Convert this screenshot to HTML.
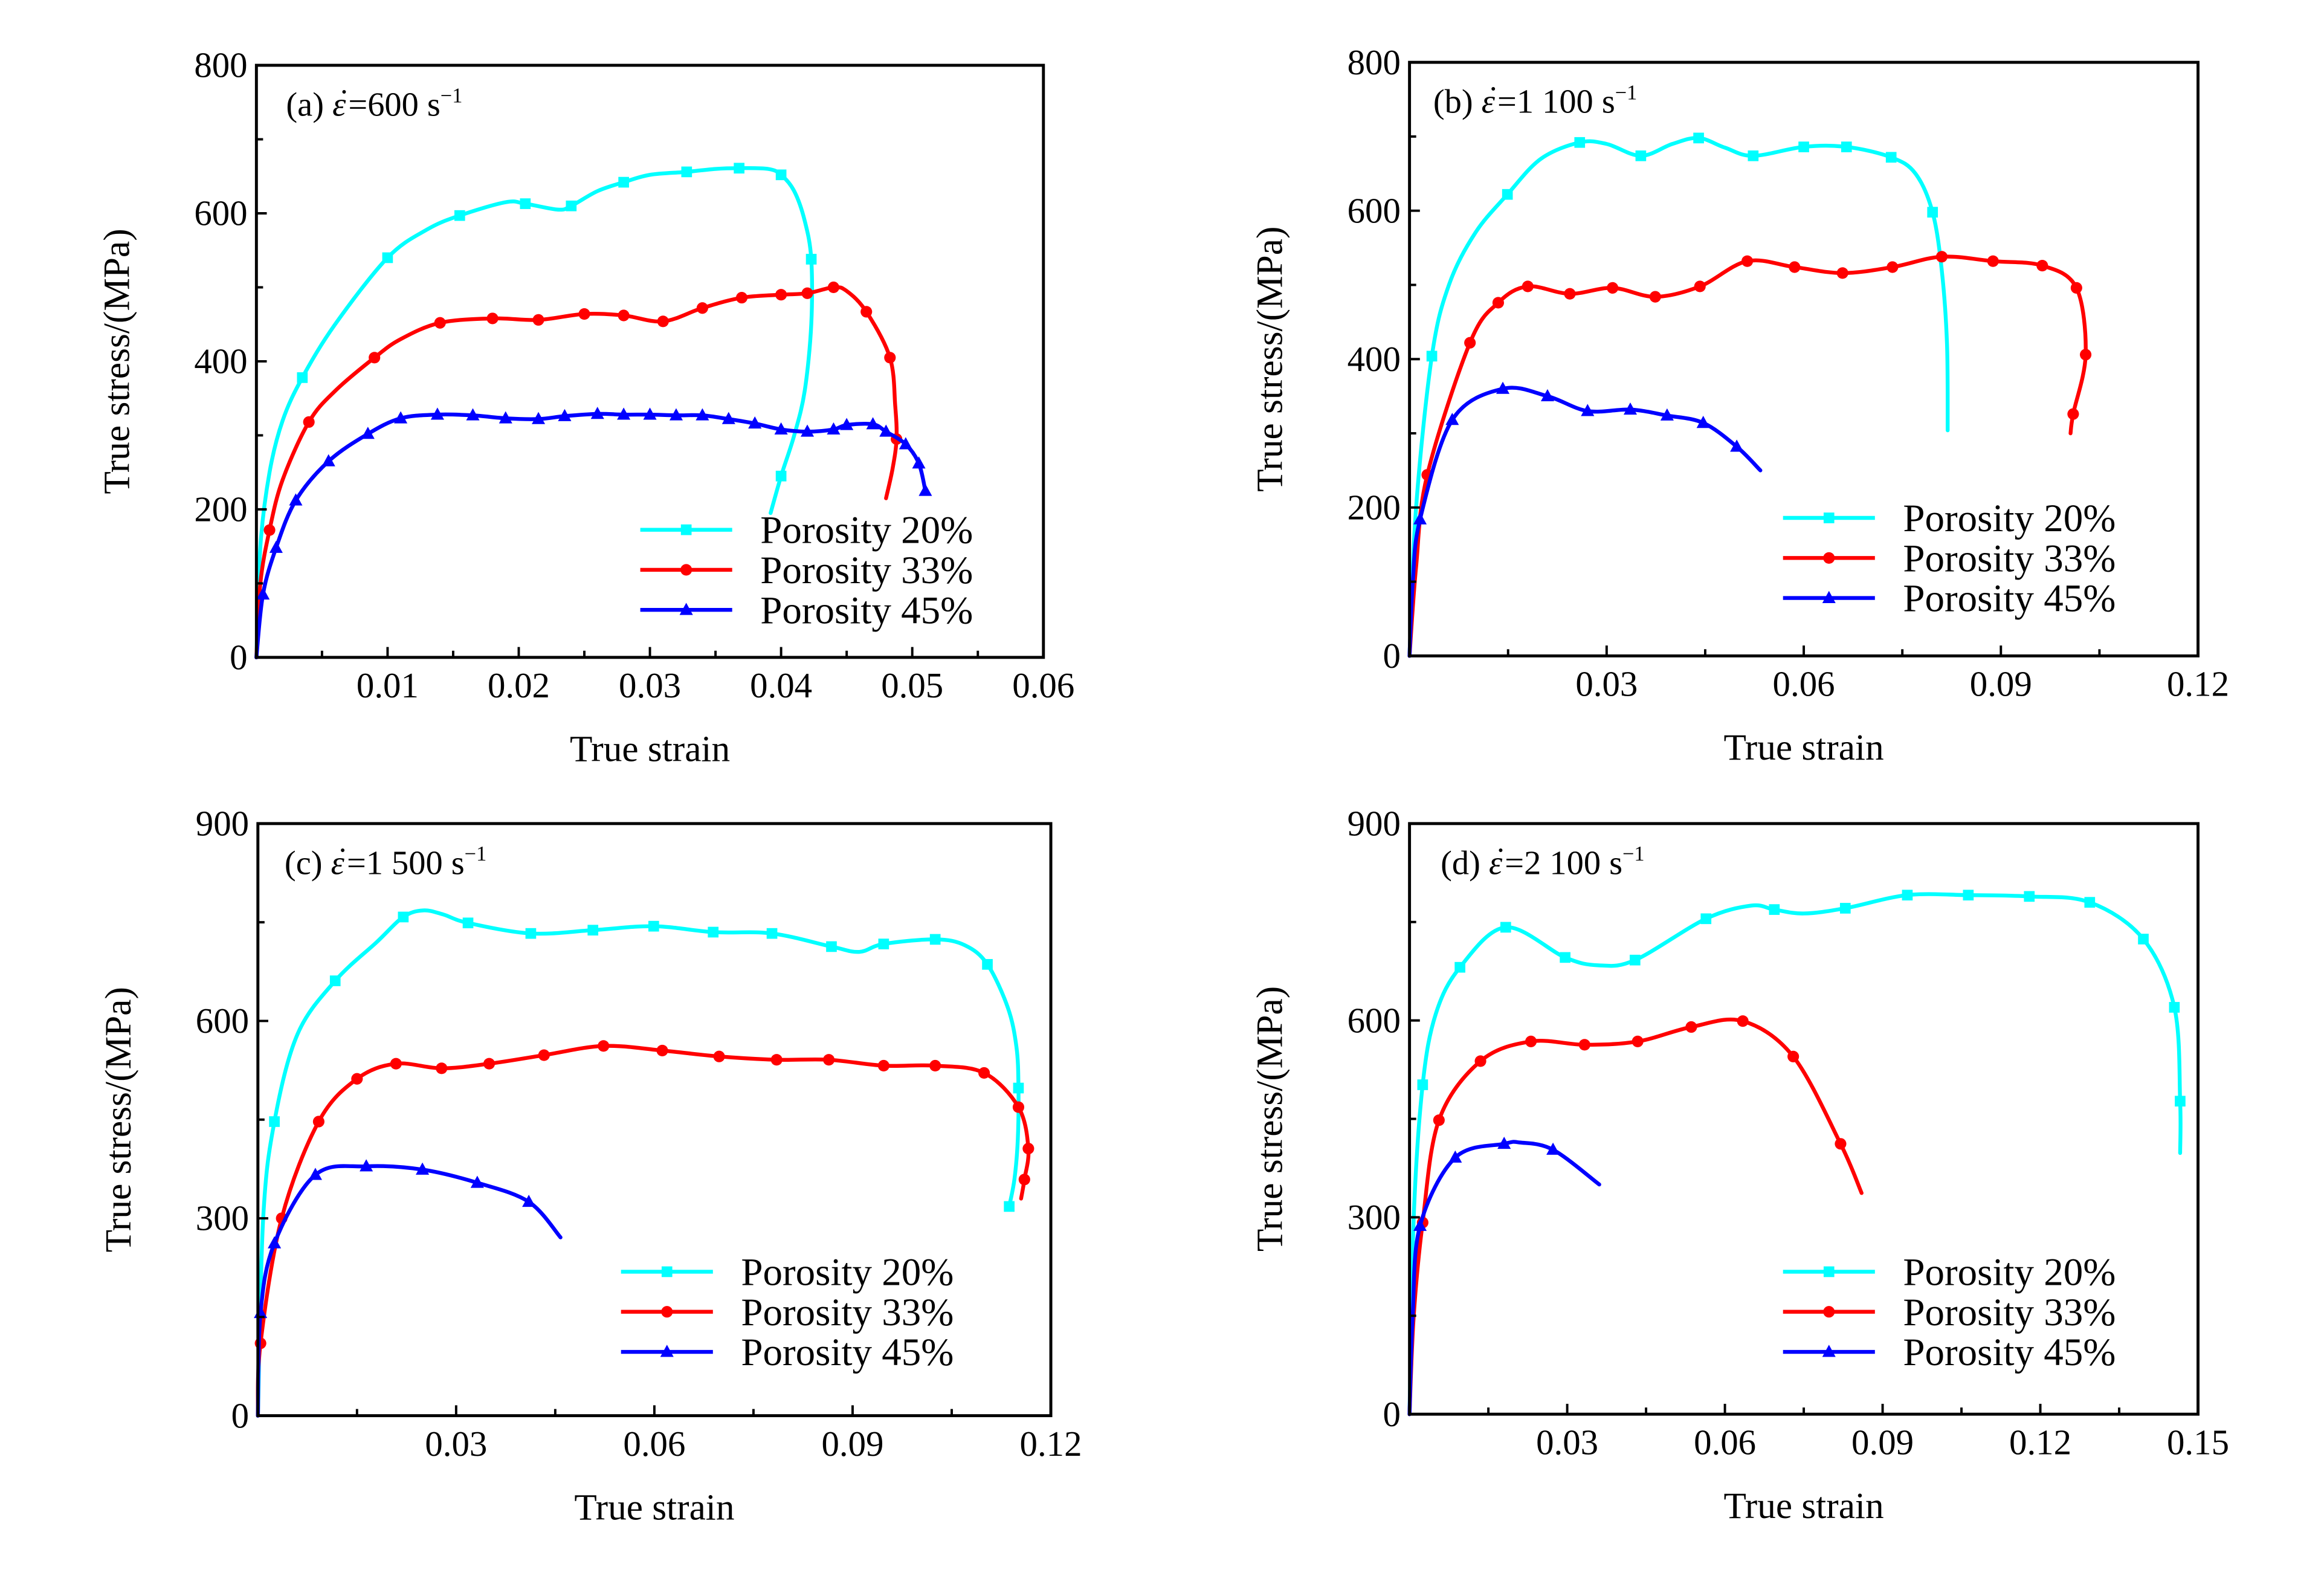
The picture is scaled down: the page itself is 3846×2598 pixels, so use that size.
<!DOCTYPE html>
<html><head><meta charset="utf-8"><style>
html,body{margin:0;padding:0;background:#fff;}
svg{display:block;}
text{font-family:"Liberation Serif",serif;fill:#000;}
</style></head>
<body>
<svg id="fig" xmlns="http://www.w3.org/2000/svg" width="3846" height="2598" viewBox="0 0 1568 1058" preserveAspectRatio="none"></svg>
<script>
// ---- Panel (a) data ----
const aCyanX=[0,0.0003,0.001,0.002,0.0035,0.006,0.01,0.013,0.0155,0.019,0.0205,0.023,0.024,0.026,0.028,0.030,0.0328,0.035,0.0368,0.039,0.040,0.041,0.0418,0.0423,0.0423,0.0418,0.041,0.040,0.0392];
const aCyanY=[0,150,250,320,378,450,540,578,597,615,613,605,610,630,642,652,656,660,661,660,652,630,590,538,450,360,300,245,195];
const aCyanM=[4,6,8,10,12,14,16,18,20,23,27];
const aRedX=[0,0.0003,0.001,0.002,0.004,0.006,0.009,0.011,0.014,0.018,0.0215,0.025,0.028,0.031,0.034,0.037,0.040,0.042,0.044,0.045,0.0465,0.0483,0.0487,0.0488,0.0485,0.048];
const aRedY=[0,100,172,240,318,360,405,430,452,458,456,464,462,454,472,486,490,492,500,495,467,405,340,295,255,215];
const aRedM=[2,4,6,8,9,10,11,12,13,14,15,16,17,18,20,21,23];
const aBlueX=[0,0.0005,0.0015,0.003,0.0055,0.0085,0.011,0.0138,0.0165,0.019,0.0215,0.0235,0.026,0.028,0.030,0.032,0.034,0.036,0.038,0.040,0.042,0.044,0.045,0.047,0.048,0.0495,0.0505,0.051];
const aBlueY=[0,85,148,212,265,302,323,328,327,323,322,326,329,328,328,327,327,322,316,308,305,308,314,315,305,288,262,225];
const aBlueM=[1,2,3,4,5,6,7,8,9,10,11,12,13,14,15,16,17,18,19,20,21,22,23,24,25,26,27];
// ---- Panel (b) data ----
const bCyanX=[0,0.001,0.0034,0.006,0.01,0.0149,0.02,0.0259,0.03,0.0352,0.04,0.044,0.048,0.0523,0.06,0.0665,0.0733,0.077,0.0796,0.081,0.0818,0.0819];
const bCyanY=[0,200,404,500,570,622,670,692,690,674,690,698,685,674,686,686,672,650,598,520,420,304];
const bCyanM=[2,5,7,9,11,13,14,15,16,18];
const bRedX=[0,0.001,0.0027,0.0092,0.0135,0.018,0.0244,0.0309,0.0374,0.0442,0.0514,0.0586,0.0659,0.0735,0.081,0.0888,0.0963,0.1015,0.1029,0.101,0.1006];
const bRedY=[0,120,244,422,476,498,488,496,484,498,532,524,516,524,538,532,526,496,406,326,300];
const bRedM=[2,3,4,5,6,7,8,9,10,11,12,13,14,15,16,17,18,19];
const bBlueX=[0,0.0005,0.0016,0.0065,0.0142,0.021,0.0271,0.0336,0.0392,0.0447,0.0498,0.0534];
const bBlueY=[0,100,184,318,360,350,330,332,324,314,282,250];
const bBlueM=[2,3,4,5,6,7,8,9,10];
// ---- Panel (c) data ----
const cCyanX=[0,0.0008,0.0025,0.006,0.0117,0.018,0.022,0.025,0.028,0.0318,0.0413,0.0507,0.0599,0.0689,0.0778,0.0868,0.091,0.0947,0.1025,0.107,0.1104,0.1135,0.1148,0.1151,0.115,0.1145,0.1137];
const cCyanY=[0,300,447,580,661,720,758,768,762,749,733,738,744,735,733,713,705,717,724,715,686,620,560,498,420,360,318];
const cCyanM=[2,4,6,9,10,11,12,13,14,15,17,18,20,23,26];
const cRedX=[0,0.0004,0.0036,0.0092,0.015,0.0209,0.0278,0.035,0.0433,0.0523,0.0612,0.0698,0.0785,0.0864,0.0947,0.1025,0.1099,0.1151,0.1166,0.116,0.1155];
const cRedY=[0,110,300,447,512,535,528,535,548,562,555,546,541,541,532,532,521,469,406,359,330];
const cRedM=[1,2,3,4,5,6,7,8,9,10,11,12,13,14,15,16,17,18,19];
const cBlueX=[0,0.0004,0.0025,0.0087,0.0164,0.0249,0.0332,0.041,0.0458];
const cBlueY=[0,156,262,366,379,374,354,325,271];
const cBlueM=[1,2,3,4,5,6,7];
// ---- Panel (d) data ----
const dCyanX=[0,0.0008,0.0025,0.005,0.0096,0.0183,0.0296,0.036,0.0429,0.0564,0.065,0.0694,0.075,0.0829,0.0947,0.1063,0.1179,0.1294,0.1396,0.1455,0.1466,0.1466];
const dCyanY=[0,300,502,610,681,742,696,684,692,755,775,769,763,771,791,791,789,780,724,620,477,398];
const dCyanM=[2,4,5,6,8,9,11,13,14,15,16,17,18,19,20];
const dRedX=[0,0.0008,0.0025,0.0056,0.0135,0.0231,0.0333,0.0434,0.0536,0.0634,0.073,0.082,0.086];
const dRedY=[0,150,292,448,538,568,563,568,590,599,545,412,337];
const dRedM=[2,3,4,5,6,7,8,9,10,11];
const dBlueX=[0,0.0006,0.002,0.0087,0.018,0.021,0.0273,0.0361];
const dBlueY=[0,150,287,391,412,414,403,350];
const dBlueM=[2,3,4,6];

const NS='http://www.w3.org/2000/svg';
const svg=document.getElementById('fig');
function mk(tag,attrs,parent){const e=document.createElementNS(NS,tag);for(const k in attrs)e.setAttribute(k,attrs[k]);(parent||svg).appendChild(e);return e;}

const COLORS={cyan:'#00ffff',red:'#ff0000',blue:'#0000ff'};
const panels=[
 {id:'a',x0:173,x1:704,y0:443,y1:44,xmax:0.06,ymax:800,xMaj:[0.01,0.02,0.03,0.04,0.05,0.06],xLab:['0.01','0.02','0.03','0.04','0.05','0.06'],xMin:0.005,yMaj:[0,200,400,600,800],yMin:100,
  title:['(a) ','=600 s','−1'],tx:193,ty:78,lx:432,ly:357,
  series:[['cyan',aCyanX,aCyanY,aCyanM,'square'],['red',aRedX,aRedY,aRedM,'circle'],['blue',aBlueX,aBlueY,aBlueM,'triangle']]},
 {id:'b',x0:951,x1:1483,y0:442,y1:42,xmax:0.12,ymax:800,xMaj:[0.03,0.06,0.09,0.12],xLab:['0.03','0.06','0.09','0.12'],xMin:0.015,yMaj:[0,200,400,600,800],yMin:100,
  title:['(b) ','=1 100 s','−1'],tx:967,ty:76,lx:1203,ly:349,
  series:[['cyan',bCyanX,bCyanY,bCyanM,'square'],['red',bRedX,bRedY,bRedM,'circle'],['blue',bBlueX,bBlueY,bBlueM,'triangle']]},
 {id:'c',x0:174,x1:709,y0:954,y1:555,xmax:0.12,ymax:900,xMaj:[0.03,0.06,0.09,0.12],xLab:['0.03','0.06','0.09','0.12'],xMin:0.015,yMaj:[0,300,600,900],yMin:150,
  title:['(c) ','=1 500 s','−1'],tx:192,ty:589,lx:419,ly:857,
  series:[['cyan',cCyanX,cCyanY,cCyanM,'square'],['red',cRedX,cRedY,cRedM,'circle'],['blue',cBlueX,cBlueY,cBlueM,'triangle']]},
 {id:'d',x0:951,x1:1483,y0:953,y1:555,xmax:0.15,ymax:900,xMaj:[0.03,0.06,0.09,0.12,0.15],xLab:['0.03','0.06','0.09','0.12','0.15'],xMin:0.015,yMaj:[0,300,600,900],yMin:150,
  title:['(d) ','=2 100 s','−1'],tx:972,ty:589,lx:1203,ly:857,
  series:[['cyan',dCyanX,dCyanY,dCyanM,'square'],['red',dRedX,dRedY,dRedM,'circle'],['blue',dBlueX,dBlueY,dBlueM,'triangle']]}
];
const legendNames=['Porosity 20%','Porosity 33%','Porosity 45%'];

function crPath(pts){
  let d='M'+pts[0][0].toFixed(2)+','+pts[0][1].toFixed(2);
  for(let i=0;i<pts.length-1;i++){
    const p0=pts[Math.max(0,i-1)],p1=pts[i],p2=pts[i+1],p3=pts[Math.min(pts.length-1,i+2)];
    const c1=[p1[0]+(p2[0]-p0[0])/6,p1[1]+(p2[1]-p0[1])/6];
    const c2=[p2[0]-(p3[0]-p1[0])/6,p2[1]-(p3[1]-p1[1])/6];
    d+=' C'+c1[0].toFixed(2)+','+c1[1].toFixed(2)+' '+c2[0].toFixed(2)+','+c2[1].toFixed(2)+' '+p2[0].toFixed(2)+','+p2[1].toFixed(2);
  }
  return d;
}
function marker(g,shape,x,y,col){
  let m;
  if(shape==='square'){m=mk('rect',{x:x-3.6,y:y-3.6,width:7.2,height:7.2,fill:col},g);}
  else if(shape==='circle'){m=mk('circle',{cx:x,cy:y,r:3.9,fill:col},g);}
  else{m=mk('polygon',{points:(x)+','+(y-4.8)+' '+(x+4.5)+','+(y+3.4)+' '+(x-4.5)+','+(y+3.4),fill:col},g);}
  
  
}

panels.forEach(p=>{
  const g=mk('g',{});
  
  
  const sx=v=>p.x0+v/p.xmax*(p.x1-p.x0);
  const sy=v=>p.y0-v/p.ymax*(p.y0-p.y1);
  p.series.forEach((s,si)=>{
    const col=COLORS[s[0]];
    const pts=s[1].map((v,i)=>[sx(v),sy(s[2][i])]);
    const path=mk('path',{d:crPath(pts),fill:'none',stroke:col,'stroke-width':2.6,'stroke-linejoin':'round','stroke-linecap':'round'},g);
    
    
    s[3].forEach(i=>marker(g,s[4],pts[i][0],pts[i][1],col));
  });
  const fr=mk('rect',{x:p.x0,y:p.y1,width:p.x1-p.x0,height:p.y0-p.y1,fill:'none',stroke:'#000','stroke-width':2},g);
  
  
  for(let v=p.xMin;v<=p.xmax+1e-9;v+=p.xMin){
    const major=p.xMaj.some(m=>Math.abs(m-v)<1e-9);
    const t=mk('line',{x1:sx(v),x2:sx(v),y1:p.y0,y2:p.y0-(major?7:4.5),stroke:'#000','stroke-width':1.6},g);
    
    
  }
  p.xMaj.forEach((v,i)=>{
    const t=mk('text',{x:sx(v),y:p.y0+27,'text-anchor':'middle','font-size':24},g);
    t.textContent=p.xLab[i];
    
    
  });
  for(let v=p.yMin;v<p.ymax-1e-9;v+=p.yMin){
    const major=p.yMaj.some(m=>Math.abs(m-v)<1e-9);
    const t=mk('line',{x1:p.x0,x2:p.x0+(major?7:4.5),y1:sy(v),y2:sy(v),stroke:'#000','stroke-width':1.6},g);
    
    
  }
  p.yMaj.forEach(v=>{
    const t=mk('text',{x:p.x0-6,y:sy(v)+8,'text-anchor':'end','font-size':24},g);
    t.textContent=String(v);
    
    
  });
  const xt=mk('text',{x:(p.x0+p.x1)/2,y:p.y0+70,'text-anchor':'middle','font-size':25},g);
  xt.textContent='True strain';
  
  
  const cy=(p.y0+p.y1)/2;
  const cx=p.x0-86;
  const yt=mk('text',{x:cx,y:cy,'text-anchor':'middle','font-size':25,transform:'rotate(-90 '+cx+' '+cy+')'},g);
  yt.textContent='True stress/(MPa)';
  
  
  const tt=mk('text',{x:p.tx,y:p.ty,'font-size':23},g);
  
  
  const s1=mk('tspan',{},tt);s1.textContent=p.title[0];
  const s2=mk('tspan',{'font-style':'italic'},tt);s2.textContent='ε';
  const s2b=mk('tspan',{dx:-5,dy:-2},tt);s2b.textContent='˙';
  const s3=mk('tspan',{dx:-1,dy:2},tt);s3.textContent=p.title[1];
  const s4=mk('tspan',{dy:-9,'font-size':14},tt);s4.textContent=p.title[2];
  p.series.forEach((s,si)=>{
    const col=COLORS[s[0]];const y=p.ly+si*27;
    const l=mk('line',{x1:p.lx,x2:p.lx+62,y1:y,y2:y,stroke:col,'stroke-width':2.6},g);
    
    
    marker(g,s[4],p.lx+31,y,col);
    const t=mk('text',{x:p.lx+81,y:y+9,'font-size':26.5},g);
    t.textContent=legendNames[si];
    
    
  });
});
</script>
</body></html>
